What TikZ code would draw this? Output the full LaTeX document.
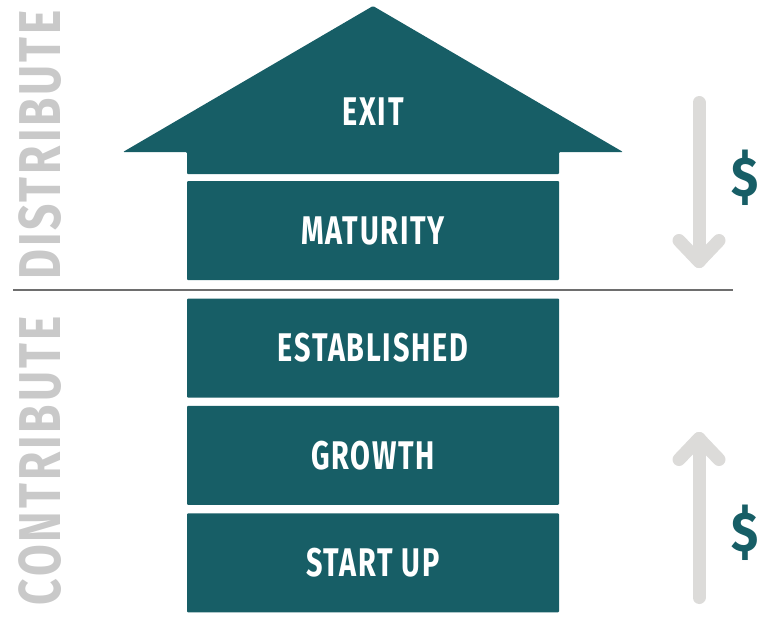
\documentclass[tikz,border=0pt]{standalone}
\usepackage{fontspec}
\usepackage{xcolor}
\usepackage{tikz}
\usetikzlibrary{
  arrows.meta,
  positioning,
  calc
}

\newfontfamily\stagefont{Fira Sans}[FakeStretch=0.72, LetterSpace=4.5]
\newfontfamily\sidefont{Fira Sans}[FakeStretch=0.78, LetterSpace=5]
\newfontfamily\cashfont{Fira Sans}[FakeStretch=0.88]
\definecolor{stageteal}{HTML}{175E66}
\definecolor{sidegray}{HTML}{C9C9C9}
\definecolor{flowgray}{HTML}{DCDBD9}
\definecolor{rulegray}{HTML}{6E6E6E}

\begin{document}
\begin{tikzpicture}[
    x=1pt, y=-1pt,
    stagebox/.style={fill=stageteal, text=white, minimum width=372pt,
                     minimum height=99pt, rounded corners=1pt, inner sep=0pt,
                     font=\stagefont\bfseries\fontsize{40}{40}\selectfont},
    sidelabel/.style={text=sidegray, rotate=90, inner sep=0pt,
                      font=\sidefont\bfseries\fontsize{59}{59}\selectfont},
    flow/.style={draw=flowgray, line width=13pt, line cap=round,
                 line join=round},
    money/.style={text=stageteal, inner sep=0pt,
                  font=\cashfont\bfseries\fontsize{56}{56}\selectfont},
  ]
  \useasboundingbox (0,0) rectangle (773,619);

  % Roof
  \fill[stageteal, rounded corners=1pt]
    (187,174) -- (187,152) -- (123,152) -- (373,6) -- (623,152)
    -- (559,152) -- (559,174) -- cycle;
  \node[text=white, inner sep=0pt,
        font=\stagefont\bfseries\fontsize{40}{40}\selectfont]
    (exit) at (373,112) {EXIT};

  % Stages
  \node[stagebox] (maturity) at (373,230.5) {MATURITY};
  \node[stagebox] (established) at (373,348) {ESTABLISHED};
  \node[stagebox, below=8pt of established] (growth) {GROWTH};
  \node[stagebox, below=8pt of growth] (startup) {START UP};

  % Divider
  \draw[rulegray, line width=2.5pt] (13,290) -- (733,290);

  % Side labels
  \node[sidelabel] (distribute) at (40.5,145) {DISTRIBUTE};
  \node[sidelabel] (contribute) at (40.5,461) {CONTRIBUTE};

  % Money flows
  \coordinate (outtop) at (699,102.5);
  \coordinate (outtip) at (699,261.5);
  \coordinate (intip) at (699,438.5);
  \coordinate (inbot) at (699,597.5);

  \draw[flow] (outtop) -- (outtip);
  \draw[flow] ($(outtip)+(-20,-21)$) -- (outtip) -- ($(outtip)+(20,-21)$);
  \draw[flow] (inbot) -- (intip);
  \draw[flow] ($(intip)+(-20,21)$) -- (intip) -- ($(intip)+(20,21)$);

  \node[money] (outcash) at (745,178) {\$};
  \node[money] (incash) at (745,533) {\$};

\end{tikzpicture}
\end{document}
